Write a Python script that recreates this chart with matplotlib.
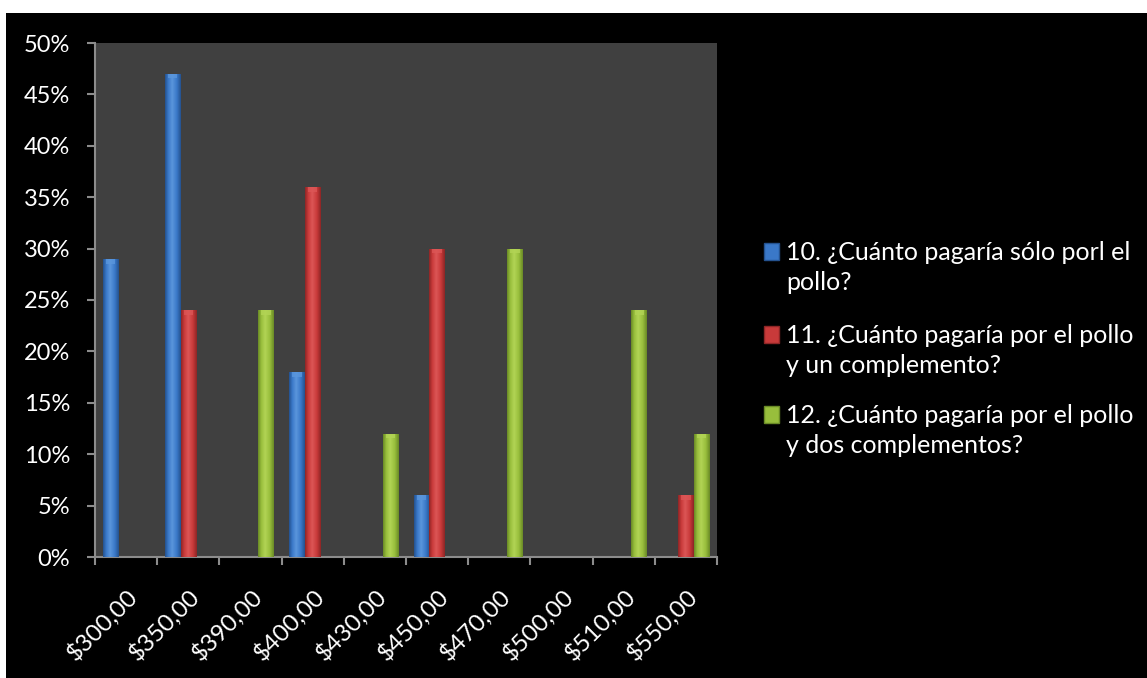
import numpy as np
import matplotlib.pyplot as plt
from matplotlib.colors import LinearSegmentedColormap
from matplotlib.patches import Rectangle

plt.rcParams['font.family'] = ['Lato', 'DejaVu Sans']

# datos (% de respuestas por precio)
precios = ['$300,00', '$350,00', '$390,00', '$400,00', '$430,00',
           '$450,00', '$470,00', '$500,00', '$510,00', '$550,00']
solo_pollo = [29, 47, 0, 18, 0, 6, 0, 0, 0, 0]
un_complemento = [0, 24, 0, 36, 0, 30, 0, 0, 0, 6]
dos_complementos = [0, 0, 24, 0, 12, 0, 30, 0, 24, 12]
etiquetas = [['10. ¿Cuánto pagaría sólo porl el', 'pollo?'],
             ['11. ¿Cuánto pagaría por el pollo', 'y un complemento?'],
             ['12. ¿Cuánto pagaría por el pollo', 'y dos complementos?']]
yticks = [0, 5, 10, 15, 20, 25, 30, 35, 40, 45, 50]

series = [solo_pollo, un_complemento, dos_complementos]
# (borde oscuro, medio, claro)
colores = [('#24528f', '#3a78c8', '#5a96dc'),
           ('#8e2626', '#c83a3a', '#dc5656'),
           ('#6a8a26', '#98be3c', '#b2d455')]

W, H = 1147, 678
fig = plt.figure(figsize=(W / 100, H / 100), dpi=100, facecolor='white')
fig.add_artist(Rectangle((6 / W, 0), 1 - 6 / W, 1 - 13 / H, transform=fig.transFigure,
                         facecolor='black', edgecolor='none', zorder=-10))

ax = fig.add_axes([95 / W, 1 - 557 / H, (717 - 95) / W, (557 - 43) / H])
ax.set_facecolor('#404040')

x = np.arange(len(precios))
ancho = 0.25
grad = np.linspace(0, 1, 64).reshape(1, -1)
for i, (vals, (c0, c1, c2)) in enumerate(zip(series, colores)):
    cmap = LinearSegmentedColormap.from_list('b%d' % i, [(0, c0), (0.2, c1), (0.45, c2), (0.75, c1), (1, c0)])
    barras = ax.bar(x + (i - 1) * ancho, vals, ancho, color=c1, linewidth=0, zorder=2)
    for b, v in zip(barras, vals):
        if v == 0:
            continue
        x0, w = b.get_x(), b.get_width()
        im = ax.imshow(grad, extent=[x0, x0 + w, 0, v], cmap=cmap, aspect='auto', zorder=3)
        im.set_clip_path(b)
        # tapa clara arriba
        ax.add_patch(Rectangle((x0 + w * 0.2, v - 0.45), w * 0.6, 0.45, facecolor=c2,
                               edgecolor='none', alpha=0.8, zorder=4))

ax.set_xlim(-0.5, len(precios) - 0.5)
ax.set_ylim(0, 50)

for s in ['top', 'right']:
    ax.spines[s].set_visible(False)
for s in ['left', 'bottom']:
    ax.spines[s].set_color('#8c8c8c')
    ax.spines[s].set_linewidth(1.5)

ax.set_yticks(yticks)
ax.set_yticklabels(['%d%%' % v for v in yticks])
ax.tick_params(axis='y', length=6, width=1.5, color='#8c8c8c', labelsize=17,
               labelcolor='white', pad=12)

ax.set_xticks(np.arange(-0.5, len(precios), 1))
ax.set_xticklabels([])
ax.tick_params(axis='x', which='major', length=6, width=1.5, color='#8c8c8c')
ax.set_xticks(x, minor=True)
ax.set_xticklabels(precios, minor=True, rotation=45, ha='right', va='top',
                   rotation_mode='anchor')
ax.tick_params(axis='x', which='minor', length=0, labelsize=17.5, labelcolor='white', pad=20)

# leyenda
y1 = [260, 343, 423]
for (c0, c1, c2), (l1, l2), yb in zip(colores, etiquetas, y1):
    fig.add_artist(Rectangle((764 / W, 1 - 260 / H - (yb - 260) / H), 15 / W, 17 / H,
                             transform=fig.transFigure, facecolor=c1, edgecolor=c0, lw=1))
    fig.text(786 / W, 1 - yb / H, l1, color='white', fontsize=18, va='baseline')
    fig.text(786 / W, 1 - (yb + 30) / H, l2, color='white', fontsize=18, va='baseline')

fig.savefig('out.png', dpi=100, facecolor=fig.get_facecolor())
